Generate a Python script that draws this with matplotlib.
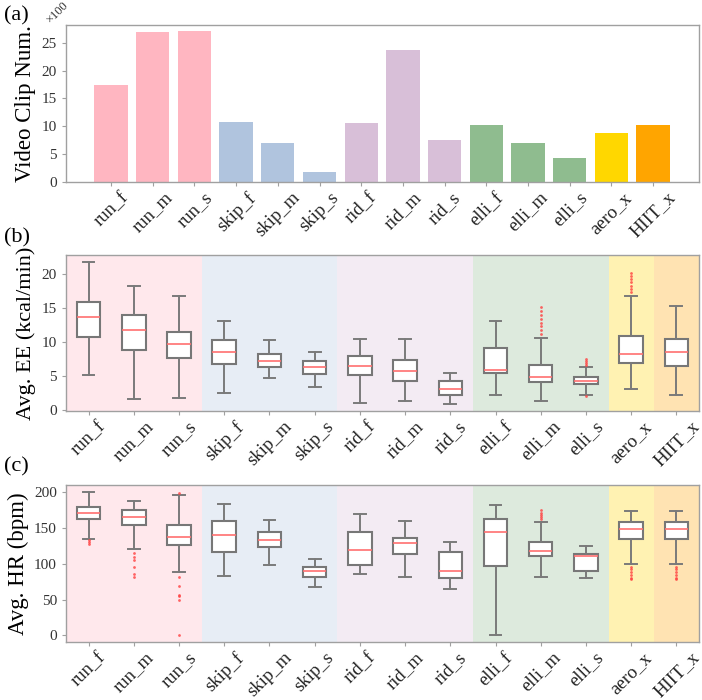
import matplotlib
matplotlib.use('Agg')
import matplotlib.pyplot as plt

plt.rcParams.update({
    "font.family": ["Liberation Serif", "DejaVu Serif"],
    "axes.edgecolor": "#a0a0a0", "xtick.color": "#a0a0a0", "ytick.color": "#a0a0a0",
    "xtick.labelcolor": "#222222", "ytick.labelcolor": "#333333",
})

labels = ["run_f", "run_m", "run_s", "skip_f", "skip_m", "skip_s", "rid_f", "rid_m", "rid_s",
          "elli_f", "elli_m", "elli_s", "aero_x", "HIIT_x"]
groups = [3, 3, 3, 3, 1, 1]
group_colors = ["#FFB6C1", "#B0C4DE", "#D8BFD8", "#8FBC8F", "#FFD700", "#FFA500"]

clip_num = [1740, 2700, 2705, 1075, 697, 174, 1060, 2370, 750, 1030, 700, 430, 880, 1030]

# EE (kcal/min): low whisker, Q1, median, Q3, high whisker
ee_low = [5.1, 1.6, 1.7, 2.5, 4.65, 3.4, 1.0, 1.2, 0.8, 2.15, 1.2, 2.2, 3.1, 2.2]
ee_q1 = [10.7, 8.75, 7.6, 6.7, 6.35, 5.3, 5.1, 4.15, 2.2, 5.4, 4.05, 3.8, 6.85, 6.45]
ee_med = [13.7, 11.8, 9.7, 8.5, 7.2, 6.35, 6.5, 5.7, 3.1, 5.8, 4.85, 4.25, 8.15, 8.5]
ee_q3 = [15.8, 14.0, 11.5, 10.3, 8.2, 7.1, 7.85, 7.3, 4.15, 9.1, 6.65, 4.8, 10.85, 10.45]
ee_high = [21.8, 18.2, 16.8, 13.1, 10.3, 8.55, 10.45, 10.35, 5.4, 13.0, 10.6, 6.3, 16.8, 15.35]
ee_fliers = [[], [], [], [], [], [], [], [], [],
             [], [11.2, 11.8, 12.3, 12.8, 13.3, 14.0, 14.6, 15.2], [6.6, 6.9, 7.2, 7.4, 2.05],
             [17.3, 17.8, 18.3, 18.8, 19.3, 19.7, 20.1], []]

# HR (bpm)
hr_low = [135, 120, 88, 83, 98, 67, 86, 81, 64, 1, 82, 80, 99, 99]
hr_q1 = [162, 153.5, 126, 116, 123, 82, 98, 113, 80, 97, 111, 90, 134, 134]
hr_med = [170.5, 165, 137, 139.5, 133.5, 90, 119.5, 129, 90, 144, 118, 111, 148, 148]
hr_q3 = [179.5, 174.5, 154, 159, 144, 96, 144, 136, 117, 163, 131, 114, 158, 158]
hr_high = [199.5, 188, 196, 184, 161, 107, 170, 159.5, 130, 182, 158, 125, 174, 174]
hr_fliers = [[133, 130, 127], [115, 110, 105, 96, 85, 82], [199, 81, 69, 57, 55, 50, 1],
             [], [], [], [], [], [], [], [162, 165, 168, 171, 175], [],
             [96, 92, 88, 84, 80, 78], [96, 92, 88, 84, 80, 78]]

tick_font = 11
xtick_font = 13.5

fig = plt.figure(figsize=(7.02, 7.00), dpi=100)
ax_a = fig.add_axes([0.094, 0.740, 0.9017, 0.2243])
ax_b = fig.add_axes([0.094, 0.4129, 0.9017, 0.2228])
ax_c = fig.add_axes([0.094, 0.0829, 0.9017, 0.2243])

bar_colors = []
for n, c in zip(groups, group_colors):
    bar_colors += [c] * n

# (a) bar chart
xa = list(range(len(labels)))
ax_a.bar(xa, [v / 100 for v in clip_num], width=0.8, color=bar_colors)
ax_a.set_xlim(-1.08, 14.1)
ax_a.set_ylim(0, 28.2)
ax_a.set_xticks(xa)
ax_a.set_yticks([0, 5, 10, 15, 20, 25])
ax_a.set_ylabel("Video Clip Num.", fontsize=16.5)
fig.text(0.081, 0.963, "×100", rotation=45, fontsize=9, color="#333333",
         ha="center", va="bottom")


def box_panel(ax, low, q1, med, q3, high, fliers):
    stats = []
    for i in range(len(labels)):
        stats.append(dict(whislo=low[i], q1=q1[i], med=med[i], q3=q3[i],
                          whishi=high[i], fliers=fliers[i]))
    # shaded group backgrounds
    start = 0.5
    for n, c in zip(groups, group_colors):
        ax.axvspan(start, start + n, color=c, alpha=0.3, lw=0, zorder=0)
        start += n
    ax.bxp(stats, positions=range(1, len(labels) + 1), widths=0.52, patch_artist=True,
           boxprops=dict(facecolor="white", edgecolor="#777777", lw=1.5),
           whiskerprops=dict(color="#7a7a7a", lw=1.4),
           capprops=dict(color="#7a7a7a", lw=1.4),
           medianprops=dict(color="#ff7070", lw=1.2),
           flierprops=dict(marker="o", markersize=2, markerfacecolor="#ff4040",
                           markeredgecolor="none", alpha=0.8))
    ax.set_xlim(0.5, len(labels) + 0.5)
    ax.set_xticks(range(1, len(labels) + 1))


box_panel(ax_b, ee_low, ee_q1, ee_med, ee_q3, ee_high, ee_fliers)
ax_b.set_ylim(-0.2, 22.8)
ax_b.set_yticks([0, 5, 10, 15, 20])
ax_b.set_ylabel("Avg. EE (kcal/min)", fontsize=16)

box_panel(ax_c, hr_low, hr_q1, hr_med, hr_q3, hr_high, hr_fliers)
ax_c.set_ylim(-9.3, 210)
ax_c.set_yticks([0, 50, 100, 150, 200])
ax_c.set_ylabel("Avg. HR (bpm)", fontsize=16.5)

for ax in (ax_a, ax_b, ax_c):
    ax.set_xticklabels(labels, rotation=45, ha="center", fontsize=xtick_font)
    ax.tick_params(axis="y", labelsize=tick_font, length=3, width=0.8)
    ax.tick_params(axis="x", length=3, width=0.8, pad=2)
    for s in ax.spines.values():
        s.set_linewidth(1.0)

fig.text(0.005, 0.978, "(a)", fontsize=16, va="center")
fig.text(0.005, 0.660, "(b)", fontsize=16, va="center")
fig.text(0.005, 0.333, "(c)", fontsize=16, va="center")

fig.savefig("out.png", dpi=100)
